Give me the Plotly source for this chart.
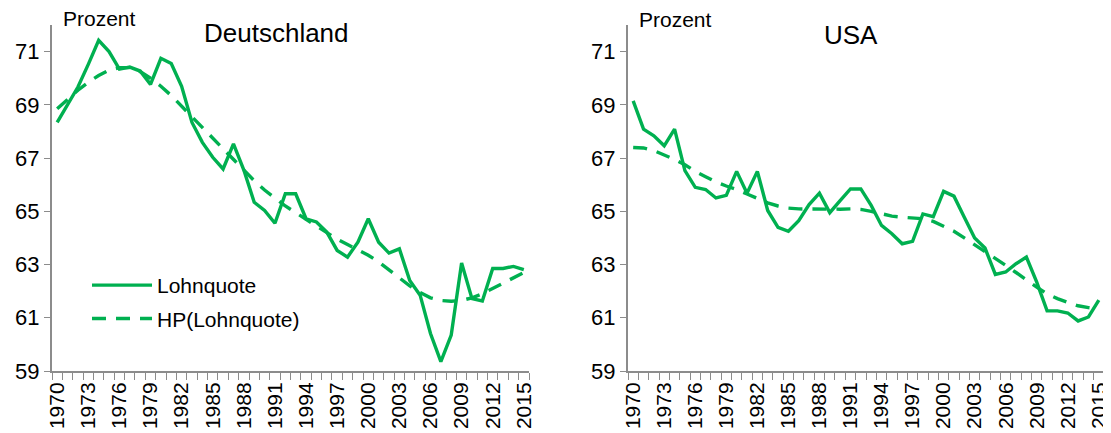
import plotly.graph_objects as go
from plotly.subplots import make_subplots

years = list(range(1970, 2016))

de_lohnquote = [68.34, 69.03, 69.67, 70.52, 71.42, 71.0, 70.34, 70.42, 70.27, 69.77,
                70.75, 70.55, 69.7, 68.34, 67.59, 67.03, 66.59, 67.53, 66.55, 65.34,
                65.03, 64.55, 65.66, 65.66, 64.72, 64.6, 64.22, 63.53, 63.28, 63.84,
                64.72, 63.84, 63.43, 63.59, 62.4, 61.85, 60.41, 59.35, 60.35, 63.06,
                61.72, 61.63, 62.85, 62.85, 62.93, 62.81]
de_hp = [68.85, 69.2, 69.55, 69.85, 70.1, 70.3, 70.4, 70.4, 70.25, 70.0,
         69.7, 69.35, 68.95, 68.55, 68.15, 67.75, 67.35, 66.95, 66.55, 66.15,
         65.8, 65.5, 65.2, 64.95, 64.7, 64.45, 64.2, 63.95, 63.75, 63.55,
         63.35, 63.1, 62.8, 62.5, 62.2, 61.95, 61.75, 61.65, 61.62, 61.65,
         61.75, 61.9, 62.1, 62.3, 62.5, 62.7]

us_lohnquote = [69.15, 68.09, 67.84, 67.46, 68.09, 66.53, 65.9, 65.82, 65.5, 65.6,
                66.5, 65.68, 66.5, 65.03, 64.4, 64.25, 64.65, 65.25, 65.68, 64.95,
                65.4, 65.84, 65.84, 65.22, 64.47, 64.16, 63.78, 63.87, 64.9, 64.8,
                65.75, 65.57, 64.78, 64.0, 63.62, 62.63, 62.72, 63.03, 63.28, 62.34,
                61.26, 61.26, 61.18, 60.88, 61.03, 61.66]
us_hp = [67.4, 67.38, 67.28, 67.13, 66.95, 66.75, 66.5, 66.3, 66.1, 65.95,
         65.82, 65.65, 65.47, 65.32, 65.2, 65.12, 65.09, 65.08, 65.07, 65.07,
         65.08, 65.09, 65.07, 65.0, 64.92, 64.82, 64.78, 64.75, 64.72, 64.62,
         64.45, 64.25, 64.0, 63.75, 63.5, 63.25, 62.97, 62.7, 62.42, 62.15,
         61.9, 61.72, 61.58, 61.45, 61.38, 61.33]

label_years = list(range(1970, 2016, 3))
y_ticks = [59, 61, 63, 65, 67, 69, 71]

GREEN = "#00B050"
AXIS = "#8C8C8C"
FONT = "Liberation Sans, Arial, sans-serif"
DASH = "14px,10px"

# page body has an 8px margin, so the figure is drawn 8px smaller
W, H = 1103, 425

fig = make_subplots(rows=1, cols=2)

fig.add_trace(go.Scatter(x=years, y=de_lohnquote, mode="lines", name="Lohnquote",
                         legendgroup="a",
                         line=dict(color=GREEN, width=3.4)), row=1, col=1)
fig.add_trace(go.Scatter(x=years, y=de_hp, mode="lines", name="HP(Lohnquote)",
                         legendgroup="b",
                         line=dict(color=GREEN, width=3.4, dash=DASH)), row=1, col=1)
fig.add_trace(go.Scatter(x=years, y=us_lohnquote, mode="lines", name="Lohnquote",
                         showlegend=False, line=dict(color=GREEN, width=3.4)), row=1, col=2)
fig.add_trace(go.Scatter(x=years, y=us_hp, mode="lines", name="HP(Lohnquote)",
                         showlegend=False,
                         line=dict(color=GREEN, width=3.4, dash=DASH)), row=1, col=2)

xdoms = [[44 / W, 521 / W], [620 / W, 1096 / W]]
ydom = [1 - 363 / H, 1 - 17 / H]

for i, xa in enumerate(["xaxis", "xaxis2"]):
    fig.layout[xa].update(
        domain=xdoms[i], range=[1969.5, 2015.5], automargin=False,
        showgrid=False, zeroline=False,
        showline=True, linecolor=AXIS, linewidth=2,
        tickmode="array", tickvals=label_years, ticktext=[str(y) for y in label_years],
        tickangle=-90, ticks="", ticklen=0, ticklabelstandoff=1,
        tickfont=dict(family=FONT, size=21, color="#000000"),
        minor=dict(tickmode="linear", tick0=1969.5, dtick=1, ticks="outside",
                   ticklen=7, tickwidth=1.3, tickcolor=AXIS, showgrid=False),
    )
for ya in ["yaxis", "yaxis2"]:
    fig.layout[ya].update(
        domain=ydom, range=[59, 72], automargin=False,
        showgrid=False, zeroline=False,
        showline=True, linecolor=AXIS, linewidth=2,
        tickmode="array", tickvals=y_ticks,
        ticks="outside", ticklen=6, tickwidth=1.3, tickcolor=AXIS,
        tickfont=dict(family=FONT, size=22, color="#000000"),
    )

annots = [
    dict(text="Prozent", x=53 / W, y=1 - 11 / H, xanchor="left", yanchor="middle", size=21),
    dict(text="Deutschland", x=268 / W, y=1 - 25 / H, xanchor="center", yanchor="middle", size=26),
    dict(text="Prozent", x=629 / W, y=1 - 12 / H, xanchor="left", yanchor="middle", size=21),
    dict(text="USA", x=843 / W, y=1 - 27 / H, xanchor="center", yanchor="middle", size=26),
]
for a in annots:
    fig.add_annotation(text=a["text"], x=a["x"], y=a["y"], xref="paper", yref="paper",
                       xanchor=a["xanchor"], yanchor=a["yanchor"], showarrow=False,
                       font=dict(family=FONT, size=a["size"], color="#000000"))

fig.update_layout(
    width=W, height=H,
    margin=dict(l=0, r=0, t=0, b=0),
    paper_bgcolor="white", plot_bgcolor="white",
    font=dict(family=FONT, color="#000000"),
    legend=dict(x=79 / W, y=1 - 257 / H, xanchor="left", yanchor="top",
                bgcolor="rgba(0,0,0,0)", font=dict(family=FONT, size=21, color="#000000"),
                traceorder="grouped", tracegroupgap=3, itemwidth=60),
)

fig.write_html("out.html")
